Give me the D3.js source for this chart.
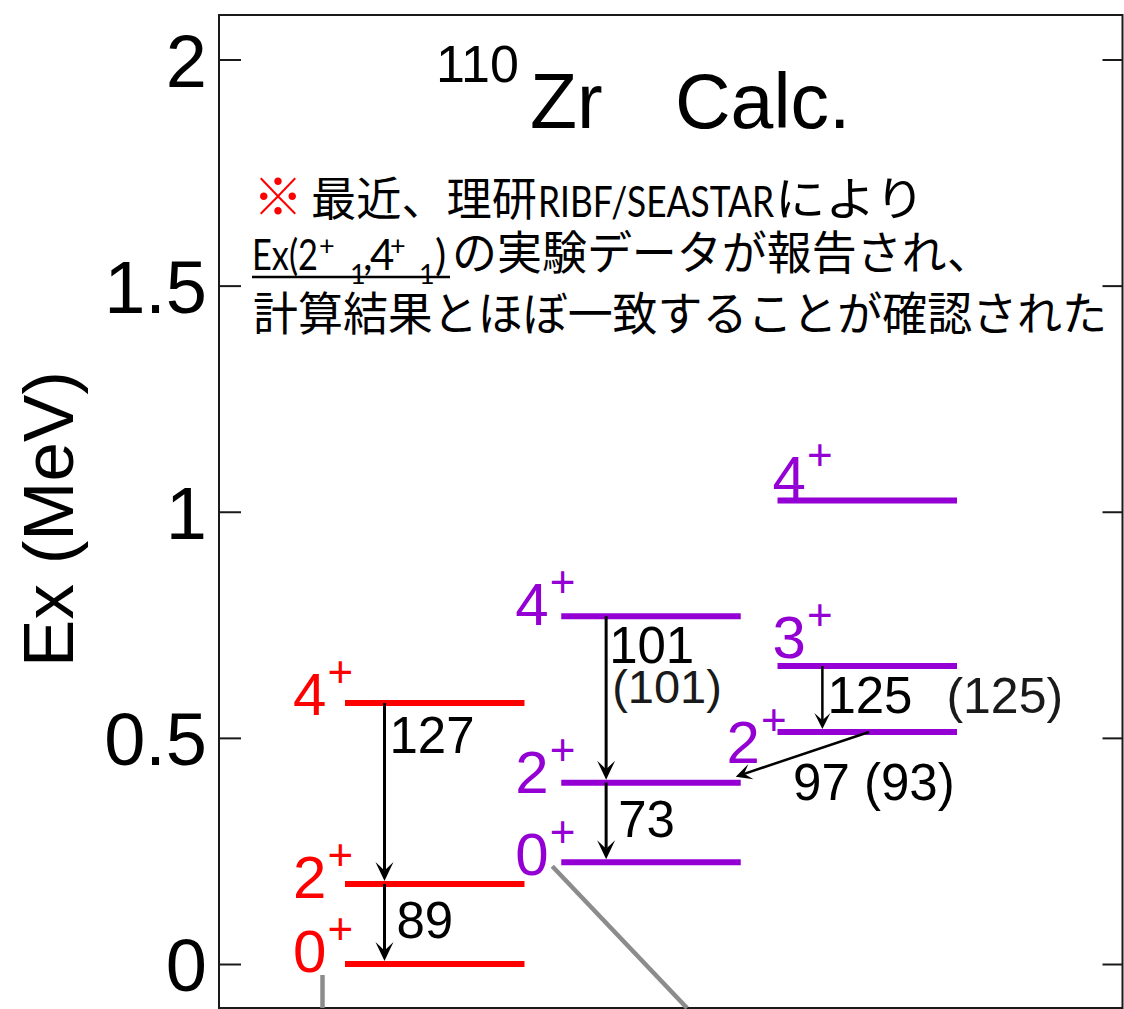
<!DOCTYPE html>
<html>
<head>
<meta charset="utf-8">
<script src="https://cdn.jsdelivr.net/npm/d3@7"></script>
<style>
  html, body { margin: 0; padding: 0; background: #fff; }
  svg { display: block; }
  .num { font-family: "Liberation Sans", Arial, Helvetica, sans-serif; }
  .jp { font-family: "Noto Sans CJK JP", sans-serif; }
  .lat { font-family: Lato, "Noto Sans", sans-serif; }
</style>
</head>
<body>
<svg id="chart" width="1124" height="1009"></svg>
<script>
// ---- level scheme of 110Zr (calculated) ----
// bands: 0 = ground band, 1 = second band, 2 = gamma-like band
const levelBand   = [0, 0, 0, 1, 1, 1, 2, 2, 2];
const levelSpin   = ["0", "2", "4", "0", "2", "4", "2", "3", "4"];
const levelEnergy = [0.000, 0.177, 0.577, 0.225, 0.401, 0.769, 0.513, 0.659, 1.025]; // MeV

// transitions between levels (indices into the level arrays)
const transFrom  = [2, 1, 5, 4, 7, 6];
const transTo    = [1, 0, 4, 3, 6, 4];
const transLabel = ["127", "89", "101", "73", "125", "97 (93)"];
const transNote  = ["", "", "(101)", "", "(125)", ""];

// axis ticks
const tickValues = [0, 0.5, 1, 1.5, 2];
const tickLabels = ["0", "0.5", "1", "1.5", "2"];

// ---- layout / style ----
const bandColor = ["#ff0000", "#9400d3", "#9400d3"];
// spin label placement relative to the level line start / level height
const spinDx = [-52, -52, -52, -46, -46, -46, -51, -5, -5];
const spinDy = [8, 14, 12, 13, 10, 9, 31, -8, -2];
// arrow position within the band of the initial level (fraction of band width)
const arrowFrac = [0.22, 0.22, 0.25, 0.25, 0.25, 0.51];
// transition label offsets (from arrow x, from initial level y)
const labDx = [5, 12, 3, 12, 5, -76];
const labDy = [50, 54, 47, 54, 47, 68];
const noteDx = [0, 0, 6, 0, 124, 0];
const noteDy = [0, 0, 87, 0, 47, 0];
const noteSize = [0, 0, 47, 0, 50, 0];

const svg = d3.select("#chart");
const frame = { left: 219, right: 1122.5, top: 15, bottom: 1008 };

const y = d3.scaleLinear().domain([0, 2]).range([964, 59.5]);
const x = d3.scaleBand().domain([0, 1, 2]).range([345, 957]).paddingInner(0.17).paddingOuter(0);

// frame
svg.append("rect")
  .attr("x", frame.left).attr("y", frame.top)
  .attr("width", frame.right - frame.left).attr("height", frame.bottom - frame.top)
  .attr("fill", "none").attr("stroke", "#1a1a1a").attr("stroke-width", 2);

// left axis (ticks inside the frame)
const axL = svg.append("g").attr("transform", `translate(${frame.left},0)`)
  .call(d3.axisLeft(y).tickValues(tickValues).tickFormat((d, i) => tickLabels[i])
    .tickSizeInner(-22).tickSizeOuter(0).tickPadding(12));
axL.select(".domain").remove();
axL.selectAll(".tick line").attr("stroke", "#1a1a1a").attr("stroke-width", 2);
axL.selectAll(".tick text")
  .attr("class", "num").attr("font-size", 74).attr("fill", "#000")
  .attr("dy", null).attr("y", 26.5);

// right axis (ticks only)
const axR = svg.append("g").attr("transform", `translate(${frame.right},0)`)
  .call(d3.axisRight(y).tickValues(tickValues).tickFormat("")
    .tickSizeInner(-20).tickSizeOuter(0));
axR.select(".domain").remove();
axR.selectAll(".tick line").attr("stroke", "#1a1a1a").attr("stroke-width", 2);

// y-axis title
svg.append("text").attr("class", "num")
  .attr("transform", "translate(73,519) rotate(-90)")
  .attr("text-anchor", "middle").attr("font-size", 71).attr("fill", "#000")
  .text("Ex (MeV)");

// plot title
const title = svg.append("g").attr("class", "num").attr("fill", "#000");
title.append("text").attr("x", 436).attr("y", 82).attr("font-size", 52).text("110");
title.append("text").attr("x", 530).attr("y", 128).attr("font-size", 77).text("Zr");
title.append("text").attr("x", 675).attr("y", 128).attr("font-size", 77).text("Calc.");

// ---- note (Japanese) ----
const note = svg.append("g").attr("fill", "#000");
note.append("text").attr("class", "jp").attr("x", 253).attr("y", 215)
  .attr("font-size", 50).attr("font-weight", 700).attr("fill", "#ff0000").text("※");
note.append("text").attr("class", "jp").attr("x", 311).attr("y", 215)
  .attr("font-size", 46).attr("textLength", 226).attr("lengthAdjust", "spacingAndGlyphs")
  .text("最近、理研");
note.append("text").attr("class", "lat").attr("x", 538).attr("y", 217)
  .attr("font-size", 42).attr("textLength", 236).attr("lengthAdjust", "spacingAndGlyphs")
  .text("RIBF/SEASTAR");
note.append("text").attr("class", "jp").attr("x", 775).attr("y", 215)
  .attr("font-size", 46).attr("textLength", 150).attr("lengthAdjust", "spacingAndGlyphs")
  .text("により");

// line 2: Ex(2+1,4+1) underlined, one text with positioned pieces
const l2 = note.append("text").attr("class", "lat").attr("font-size", 42);
const l2Pieces = [
  { t: "Ex(2", x: 252, y: 270, s: 42 },
  { t: "+",    x: 319, y: 255, s: 27 },
  { t: "1",    x: 350, y: 284, s: 27 },
  { t: ",",    x: 363, y: 270, s: 42 },
  { t: "4",    x: 370, y: 270, s: 42 },
  { t: "+",    x: 390, y: 255, s: 27 },
  { t: "1",    x: 419, y: 284, s: 27 },
  { t: ")",    x: 435, y: 270, s: 42 }
];
l2.selectAll("tspan").data(l2Pieces).join("tspan")
  .attr("x", d => d.x).attr("y", d => d.y).attr("font-size", d => d.s)
  .each(function (d, i) {
    if (i === 0) d3.select(this).attr("textLength", 66).attr("lengthAdjust", "spacingAndGlyphs");
  })
  .text(d => d.t);
note.append("line").attr("x1", 252).attr("x2", 450).attr("y1", 277).attr("y2", 277)
  .attr("stroke", "#000").attr("stroke-width", 2.5);
note.append("text").attr("class", "jp").attr("x", 452).attr("y", 269)
  .attr("font-size", 46).attr("textLength", 540).attr("lengthAdjust", "spacingAndGlyphs")
  .text("の実験データが報告され、");

// line 3
note.append("text").attr("class", "jp").attr("x", 253).attr("y", 330)
  .attr("font-size", 46).attr("textLength", 854).attr("lengthAdjust", "spacingAndGlyphs")
  .text("計算結果とほぼ一致することが確認された");

// ---- connector lines leaving the panel ----
const conn = svg.append("g").attr("stroke", "#8c8c8c").attr("stroke-width", 4.5).attr("fill", "none");
{
  const x0 = x(levelBand[0]) - 22.5, y0 = y(levelEnergy[0]) + 11;
  conn.append("line").attr("x1", x0).attr("y1", y0).attr("x2", x0).attr("y2", frame.bottom);
  const x1 = x(levelBand[3]) - 9, y1 = y(levelEnergy[3]) + 4;
  const slope = 135 / 142;
  conn.append("line").attr("x1", x1).attr("y1", y1)
    .attr("x2", x1 + (frame.bottom - y1) * slope).attr("y2", frame.bottom);
}

// ---- levels ----
const idx = d3.range(levelEnergy.length);
svg.append("g").selectAll("line").data(idx).join("line")
  .attr("x1", i => x(levelBand[i]))
  .attr("x2", i => x(levelBand[i]) + x.bandwidth())
  .attr("y1", i => y(levelEnergy[i]))
  .attr("y2", i => y(levelEnergy[i]))
  .attr("stroke", i => bandColor[levelBand[i]])
  .attr("stroke-width", 6);

// spin-parity labels
const spins = svg.append("g").selectAll("text").data(idx).join("text")
  .attr("class", "num")
  .attr("x", i => x(levelBand[i]) + spinDx[i])
  .attr("y", i => y(levelEnergy[i]) + spinDy[i])
  .attr("font-size", 60)
  .attr("fill", i => bandColor[levelBand[i]]);
spins.append("tspan").text(i => levelSpin[i]);
spins.append("tspan").attr("dy", -28).attr("dx", 1).attr("font-size", 44).text("+");

// ---- transitions ----
const arrowHead = (len, half) => `M0,0 L${-len},${-half} L${-len * 0.55},0 L${-len},${half} Z`;

const tg = svg.append("g");
d3.range(transFrom.length).forEach(k => {
  const a = transFrom[k], b = transTo[k];
  const xs = x(levelBand[a]) + arrowFrac[k] * x.bandwidth();
  const ys = y(levelEnergy[a]);
  let xe, ye;
  if (levelBand[a] === levelBand[b]) {
    xe = xs; ye = y(levelEnergy[b]) - 3;
  } else {
    xe = x(levelBand[b]) + x.bandwidth() - 5; ye = y(levelEnergy[b]) - 6;
  }
  const ang = Math.atan2(ye - ys, xe - xs) * 180 / Math.PI;
  const len = levelBand[a] === levelBand[b] && levelBand[a] < 2 ? 19 : 16;
  const half = len === 19 ? 9 : 8;
  const back = len * 0.55;
  const dx = Math.cos(ang * Math.PI / 180), dy = Math.sin(ang * Math.PI / 180);
  tg.append("line")
    .attr("x1", xs).attr("y1", ys)
    .attr("x2", xe - dx * back).attr("y2", ye - dy * back)
    .attr("stroke", "#000").attr("stroke-width", levelBand[a] === 2 ? 2.5 : 3);
  tg.append("path")
    .attr("d", arrowHead(len, half))
    .attr("transform", `translate(${xe},${ye}) rotate(${ang})`)
    .attr("fill", "#000");

  tg.append("text").attr("class", "num")
    .attr("x", xs + labDx[k]).attr("y", ys + labDy[k])
    .attr("font-size", 51).attr("fill", "#000")
    .text(transLabel[k]);
  if (transNote[k]) {
    tg.append("text").attr("class", "num")
      .attr("x", xs + noteDx[k]).attr("y", ys + noteDy[k])
      .attr("font-size", noteSize[k]).attr("fill", "#1a1a1a")
      .text(transNote[k]);
  }
});
</script>
</body>
</html>
